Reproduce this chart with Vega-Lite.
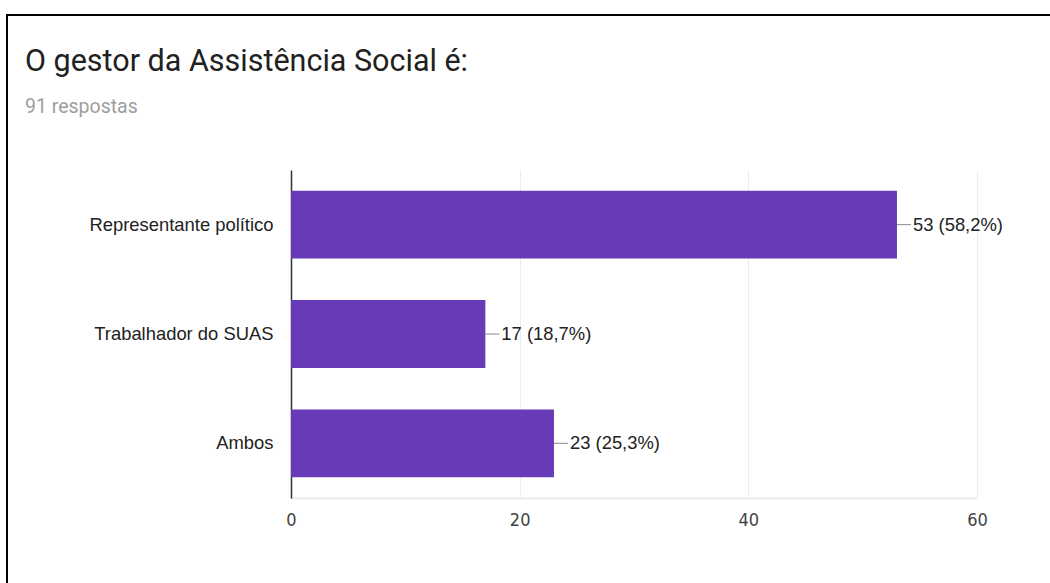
{
  "$schema": "https://vega.github.io/schema/vega-lite/v6.json",
  "width": 1053,
  "height": 638,
  "autosize": {"type": "none"},
  "padding": {"left": 7, "top": 15, "right": 0, "bottom": 0},
  "background": "white",
  "title": {
    "text": "O gestor da Assistência Social é:",
    "subtitle": "91 respostas",
    "anchor": "start",
    "frame": "group",
    "orient": "top",
    "offset": 0,
    "dx": 18,
    "dy": 101,
    "font": "Roboto",
    "fontSize": 30.5,
    "fontWeight": "normal",
    "color": "#212121",
    "subtitleFont": "Roboto",
    "subtitleFontSize": 19.5,
    "subtitleColor": "#9e9e9e",
    "subtitlePadding": 20
  },
  "config": {
    "view": {"stroke": "#000000", "strokeWidth": 2}
  },
  "data": {
    "values": [
      {"categoria": "Representante político", "respostas": 53, "rotulo": "53 (58,2%)"},
      {"categoria": "Trabalhador do SUAS", "respostas": 17, "rotulo": "17 (18,7%)"},
      {"categoria": "Ambos", "respostas": 23, "rotulo": "23 (25,3%)"}
    ]
  },
  "encoding": {
    "y": {
      "field": "categoria",
      "type": "nominal",
      "sort": null,
      "title": null,
      "scale": {"range": [155, 483], "paddingInner": 0.38, "paddingOuter": 0.19},
      "axis": {
        "offset": -284,
        "domainColor": "#333333",
        "domainWidth": 1.5,
        "ticks": false,
        "labelPadding": 18,
        "labelLimit": 400,
        "labelFont": "Liberation Sans",
        "labelFontSize": 18.4,
        "labelColor": "#222222",
        "grid": false
      }
    },
    "x": {
      "field": "respostas",
      "type": "quantitative",
      "title": null,
      "scale": {"domain": [0, 60], "nice": false, "range": [284, 970]},
      "axis": {
        "offset": -155,
        "values": [0, 20, 40, 60],
        "domainColor": "#ebebeb",
        "domainWidth": 2,
        "ticks": false,
        "labelFlush": false,
        "labelPadding": 13,
        "labelFont": "Liberation Sans Narrow, DejaVu Sans Condensed, Roboto",
        "labelFontSize": 18,
        "labelColor": "#444444",
        "grid": true,
        "gridColor": "#ececec",
        "gridWidth": 1
      }
    }
  },
  "layer": [
    {
      "mark": {"type": "bar", "color": "#673ab7"}
    },
    {
      "mark": {"type": "rule", "color": "#8a8a8a", "strokeWidth": 1, "x2Offset": 14},
      "encoding": {"x2": {"field": "respostas"}}
    },
    {
      "mark": {"type": "text", "align": "left", "baseline": "middle", "dx": 16, "font": "Liberation Sans", "fontSize": 18.4, "color": "#222222"},
      "encoding": {"text": {"field": "rotulo"}}
    }
  ]
}
